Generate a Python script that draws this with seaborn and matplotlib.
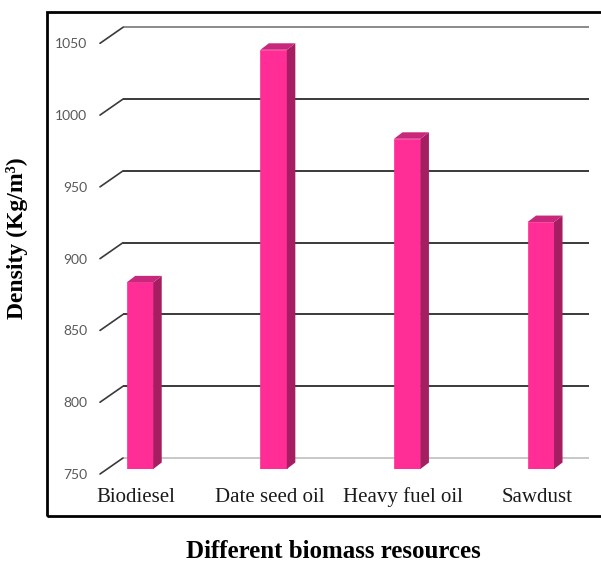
import matplotlib
matplotlib.use("Agg")
import matplotlib.pyplot as plt
import seaborn as sns
import pandas as pd
from matplotlib.patches import Polygon, Rectangle
from matplotlib.transforms import IdentityTransform

categories = ["Biodiesel", "Date seed oil", "Heavy fuel oil", "Sawdust"]
density = [880, 1042, 980, 922]
y_ticks = [750, 800, 850, 900, 950, 1000, 1050]

W, H = 601, 562
DPI = 100

sns.set_theme(style="white")
plt.rcParams["font.family"] = ["Liberation Serif", "DejaVu Serif"]

fig = plt.figure(figsize=(W / DPI, H / DPI), dpi=DPI)

# plot area in pixels (bar plane)
left_px, right_px = 100, 589
floor_px, ceil_px = 469, 38.3
ax = fig.add_axes([left_px / W, (H - floor_px) / H,
                   (right_px - left_px) / W, (floor_px - ceil_px) / H])

df = pd.DataFrame({"resource": categories, "density": density})
front = "#FF2D95"
side = "#A61E62"
topc = "#C8287C"
sns.barplot(data=df, x="resource", y="density", color=front, width=0.198,
            saturation=1, ax=ax, zorder=3, edgecolor=front, linewidth=0.5)

ymin, ymax = 750, 1050
ppx = 133.6                       # pixels per category step
xlo = -40 / ppx
xhi = xlo + (right_px - left_px) / ppx
ax.set_xlim(xlo, xhi)
ax.set_ylim(ymin, ymax)
ppy = (floor_px - ceil_px) / (ymax - ymin)   # pixels per density unit

for s in ax.spines.values():
    s.set_visible(False)
ax.set_xticks([])
ax.set_yticks([])
ax.set_xlabel("")
ax.set_ylabel("")
ax.patch.set_alpha(0)

# back wall gridlines with the slanted floor/side-wall edge
back_dx = 23 / ppx
back_dy = 11 / ppy
front_dy = -5 / ppy
for v in y_ticks:
    if v == 750:
        col = "#c8c8c8"
    elif v == 1050:
        col = "#8a8a8a"
    else:
        col = "#3a3a3a"
    ax.plot([xlo + back_dx, xhi], [v + back_dy, v + back_dy], color=col,
            lw=1.4, clip_on=False, zorder=1, solid_capstyle="butt")
    ax.plot([xlo, xlo + back_dx], [v + front_dy, v + back_dy], color="#3a3a3a",
            lw=1.2, clip_on=False, zorder=1)
    ax.text(xlo - 13 / ppx, v - 6 / ppy, str(v), ha="right", va="center",
            fontsize=10, color="#595959", family=["Lato", "DejaVu Sans"])

# depth faces for each bar
ddx = 8.5 / ppx
ddy = 6.5 / ppy
for bar in ax.patches[:len(density)]:
    x0 = bar.get_x()
    x1 = x0 + bar.get_width()
    top = bar.get_height()
    ax.add_patch(Polygon([(x1, ymin), (x1 + ddx, ymin + ddy),
                          (x1 + ddx, top + ddy), (x1, top)],
                         closed=True, facecolor=side, edgecolor="none",
                         zorder=3, clip_on=False))
    ax.add_patch(Polygon([(x0, top), (x0 + ddx, top + ddy),
                          (x1 + ddx, top + ddy), (x1, top)],
                         closed=True, facecolor=topc, edgecolor="none",
                         zorder=3, clip_on=False))

# category labels
for i, name in enumerate(categories):
    ax.text(i - 4 / ppx, ymin - 28 / ppy, name, ha="center", va="center",
            fontsize=15, color="#1a1a1a")

# outer frame
fig.add_artist(Rectangle((47, H - 516), 640, 504, transform=IdentityTransform(),
                         fill=False, edgecolor="black", lw=2))

fig.text(17 / W, 1 - 238 / H, "Density (Kg/m³)", rotation=90, ha="center",
         va="center", fontsize=17, fontweight="bold", color="black")
fig.text(333 / W, 1 - 551 / H, "Different biomass resources", ha="center",
         va="center", fontsize=18, fontweight="bold", color="black")

fig.savefig("out.png", dpi=DPI)
